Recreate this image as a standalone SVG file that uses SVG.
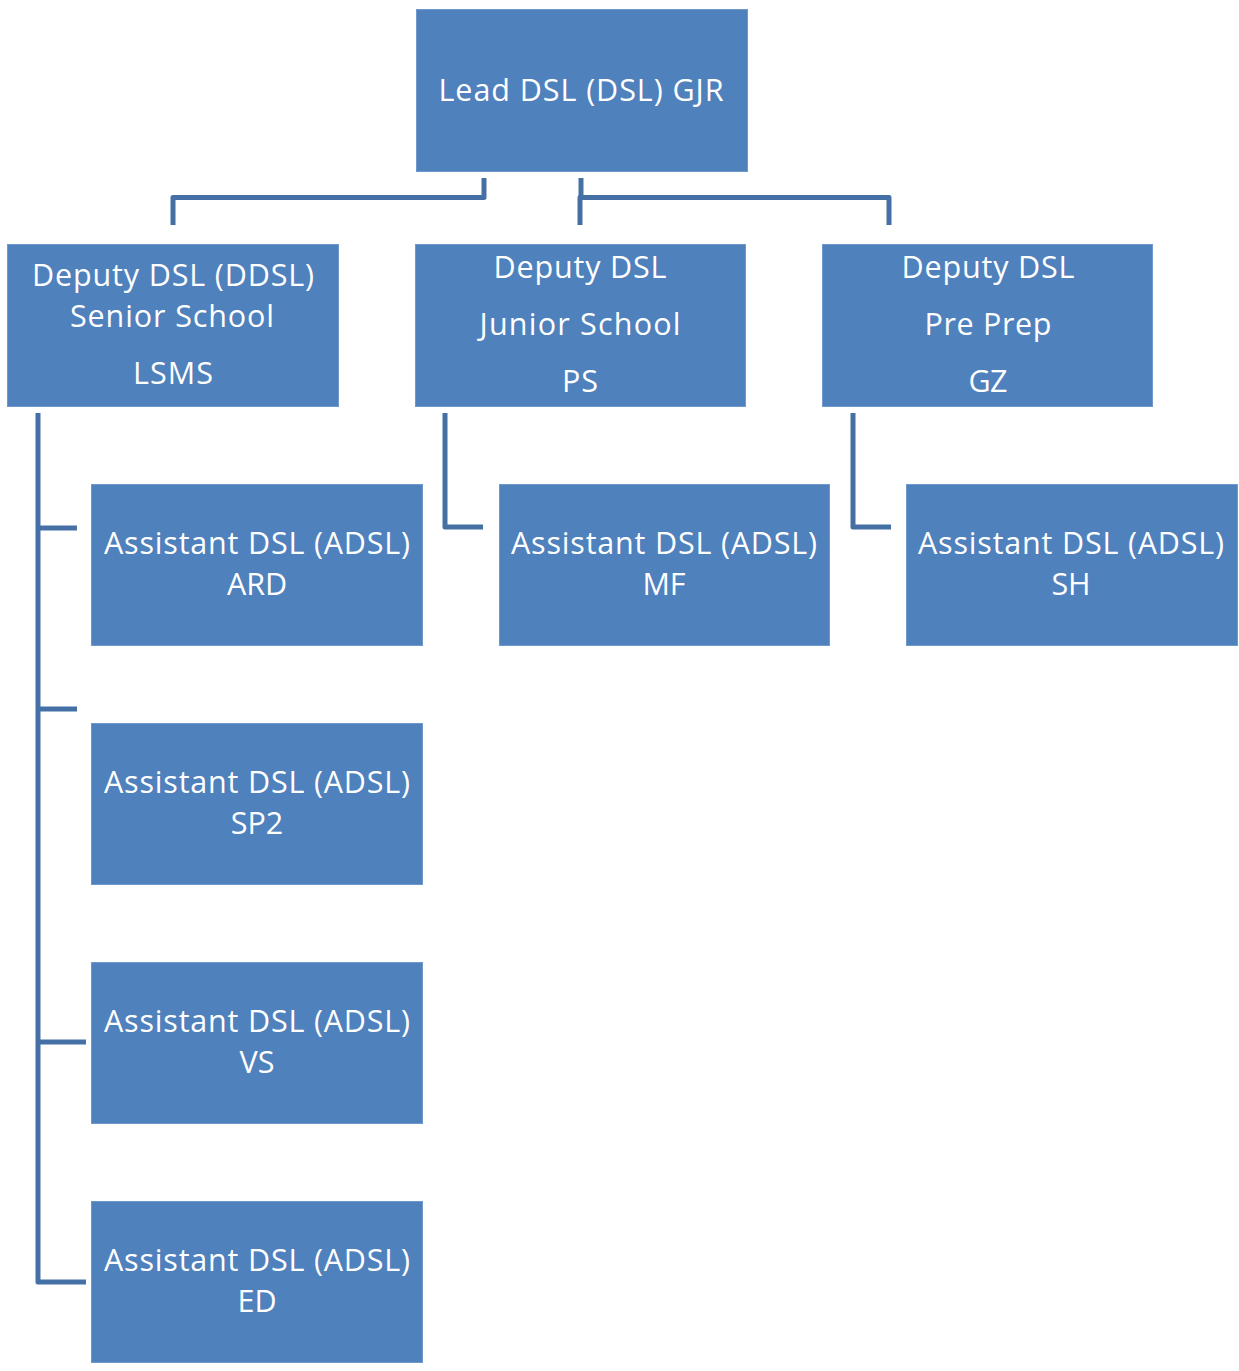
<svg xmlns="http://www.w3.org/2000/svg" width="1239" height="1371" viewBox="0 0 1239 1371">
<style>
.box{fill:#4F81BD;stroke:#6F98CC;stroke-width:1}
.t{font-family:"Open Sans","Liberation Sans",sans-serif;font-size:30.5px;fill:#FFFFFF;text-anchor:middle}
.c{fill:none;stroke:#4470A6;stroke-width:5;stroke-linejoin:round;stroke-linecap:butt}
</style>
<rect width="1239" height="1371" fill="#FFFFFF"/>
<g id="connectors">
<path class="c" d="M484 178 V197.5 H173 V225"/>
<path class="c" d="M581 178 V197.5"/>
<path class="c" d="M580 225 V197.5 H889 V225"/>
<path class="c" d="M38 413 V1282 H86"/>
<path class="c" d="M38 528 H77"/>
<path class="c" d="M38 709 H77"/>
<path class="c" d="M38 1042 H86"/>
<path class="c" d="M445 413 V527 H483"/>
<path class="c" d="M853 413 V527 H891"/>
</g>
<g id="lead">
<rect class="box" x="416.5" y="9.5" width="331" height="162"/>
<text class="t" x="581" y="101" textLength="285">Lead DSL (DSL) GJR</text>
</g>
<g id="deputy-senior">
<rect class="box" x="7.5" y="244.5" width="331" height="162"/>
<text class="t" x="173" y="286" textLength="282">Deputy DSL (DDSL)</text>
<text class="t" x="172" y="327" textLength="204">Senior School</text>
<text class="t" x="173" y="384" textLength="80">LSMS</text>
</g>
<g id="deputy-junior">
<rect class="box" x="415.5" y="244.5" width="330" height="162"/>
<text class="t" x="580" y="278" textLength="173">Deputy DSL</text>
<text class="t" x="580" y="335" textLength="201">Junior School</text>
<text class="t" x="580" y="392" textLength="36">PS</text>
</g>
<g id="deputy-preprep">
<rect class="box" x="822.5" y="244.5" width="330" height="162"/>
<text class="t" x="988" y="278" textLength="173">Deputy DSL</text>
<text class="t" x="988" y="335" textLength="127">Pre Prep</text>
<text class="t" x="988" y="392" textLength="39">GZ</text>
</g>
<g id="adsl-ard">
<rect class="box" x="91.5" y="484.5" width="331" height="161"/>
<text class="t" x="257" y="554" textLength="306">Assistant DSL (ADSL)</text>
<text class="t" x="257" y="595">ARD</text>
</g>
<g id="adsl-mf">
<rect class="box" x="499.5" y="484.5" width="330" height="161"/>
<text class="t" x="664" y="554" textLength="306">Assistant DSL (ADSL)</text>
<text class="t" x="664" y="595">MF</text>
</g>
<g id="adsl-sh">
<rect class="box" x="906.5" y="484.5" width="331" height="161"/>
<text class="t" x="1071" y="554" textLength="306">Assistant DSL (ADSL)</text>
<text class="t" x="1071" y="595">SH</text>
</g>
<g id="adsl-sp2">
<rect class="box" x="91.5" y="723.5" width="331" height="161"/>
<text class="t" x="257" y="793" textLength="306">Assistant DSL (ADSL)</text>
<text class="t" x="257" y="834">SP2</text>
</g>
<g id="adsl-vs">
<rect class="box" x="91.5" y="962.5" width="331" height="161"/>
<text class="t" x="257" y="1032" textLength="306">Assistant DSL (ADSL)</text>
<text class="t" x="257" y="1073">VS</text>
</g>
<g id="adsl-ed">
<rect class="box" x="91.5" y="1201.5" width="331" height="161"/>
<text class="t" x="257" y="1271" textLength="306">Assistant DSL (ADSL)</text>
<text class="t" x="257" y="1312">ED</text>
</g>
</svg>
